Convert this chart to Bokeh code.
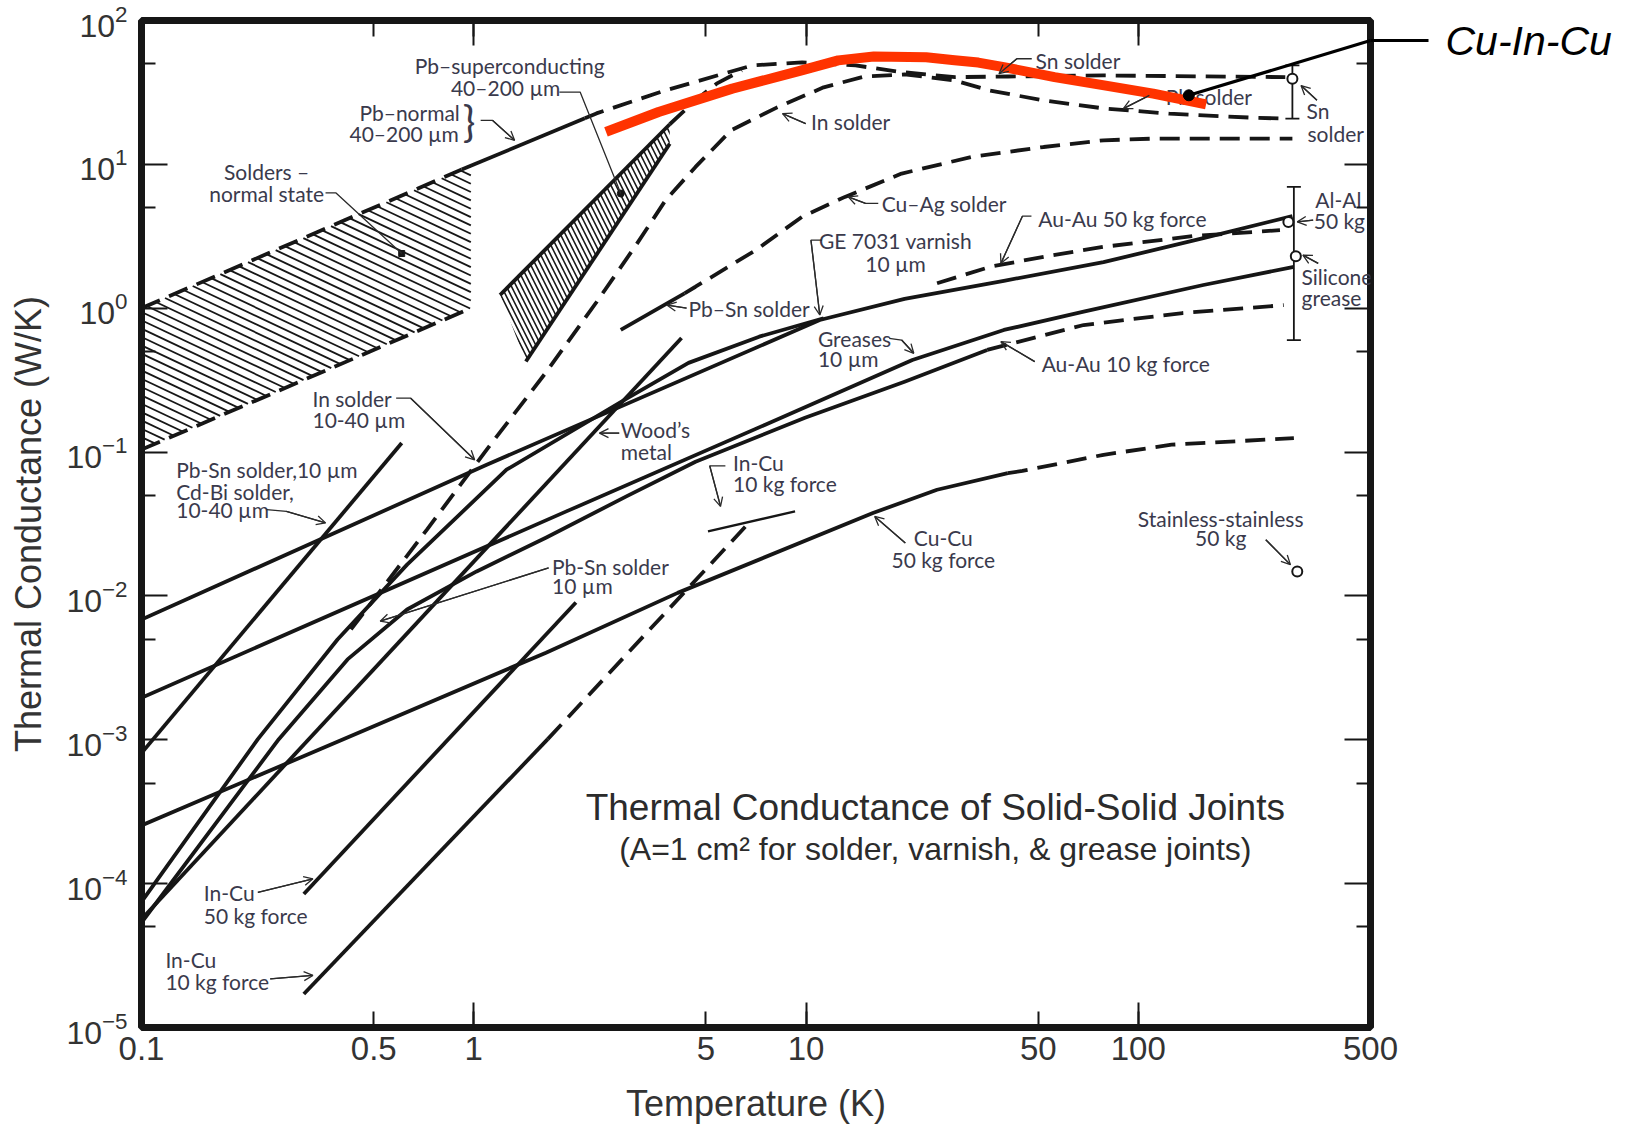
import numpy as np
from bokeh.plotting import figure
from bokeh.models import (ColumnDataSource, FixedTicker, LogAxis, Arrow,
                          OpenHead, Whisker, TeeHead, CustomJSTickFormatter)
from bokeh.core.properties import value
from bokeh.embed import file_html
from bokeh.resources import INLINE

# ---------------- axis ticks ----------------
x_ticks = [0.1, 0.5, 1, 5, 10, 50, 100, 500]
x_decades = [1, 10, 100]
y_ticks = [1e-5, 1e-4, 1e-3, 1e-2, 1e-1, 1e0, 1e1, 1e2]
y_halves = [5e-5, 5e-4, 5e-3, 5e-2, 5e-1, 5e0, 5e1]

# ---------------- curves: temperature T (K), conductance G (W/K) ----------------
# Cu-In-Cu (added red curve)
cuincu_T = [2.5, 3.6, 6.0, 9.7, 12.5, 16, 23, 28, 33, 39.4, 56, 79, 111, 160]
cuincu_G = [16.8, 23.1, 33.6, 45.0, 52.8, 56.2, 55.6, 53.0, 51.0, 47.4, 40.4, 35.4, 31.0, 26.1]

# Solders - normal state band (hatched): upper-left, upper-right, lower-right, lower-left
soldn_T = [0.1, 0.98, 0.98, 0.1]
soldn_G = [1.0, 9.8, 1.0, 0.104]
soldn_up_T = [0.1, 0.92]
soldn_up_G = [1.0, 9.2]
soldn_lo_T = [0.1, 0.98]
soldn_lo_G = [0.104, 1.0]

# Pb-normal (solid) continuing as Sn solder (dashed)
pbn_T = [0.92, 2.16]
pbn_G = [9.2, 20.9]
sn_T = [2.16, 2.34, 3.78, 6.89, 9.73, 14.1, 19.4, 28.1, 40.5, 78.6, 277]
sn_G = [20.9, 22.6, 32.7, 48.7, 51.2, 48.7, 43.8, 40.4, 40.8, 41.5, 40.4]

# Pb-superconducting wedge (hatched)
pbsc_T = [1.20, 3.89, 3.89, 1.435]
pbsc_G = [1.235, 19.0, 13.9, 0.426]
pbsc_left_T = [1.20, 3.89]
pbsc_left_G = [1.235, 19.0]
pbsc_right_T = [1.435, 3.89]
pbsc_right_G = [0.426, 13.9]
pbsc_dash_T = [3.89, 4.65, 5.38, 6.41]
pbsc_dash_G = [19.0, 27.9, 36.4, 45.0]

# In solder (dashed) running into Pb solder
insol_T = [0.427, 0.723, 1.094, 1.654, 2.34, 3.08, 3.78, 4.65, 5.96, 8.19, 11.3, 15.0,
           19.8, 27.9, 35.8, 52.0, 78.6, 124, 221, 277]
insol_G = [5.85e-3, 2.89e-2, 0.104, 0.361, 1.10, 2.75, 5.64, 9.6, 17.3, 24.9, 34.3, 40.8,
           42.2, 38.4, 32.6, 27.8, 24.5, 22.5, 21.1, 20.8]

# Pb-Sn solder (solid) continuing as Cu-Ag solder (dashed)
pbsn_T = [2.77, 4.31]
pbsn_G = [0.706, 1.27]
cuag_T = [4.31, 4.65, 7.07, 9.73, 13.1, 19.4, 31.7, 51.9, 78.6, 111, 291]
cuag_G = [1.27, 1.41, 2.54, 4.32, 5.94, 8.63, 11.3, 13.2, 14.7, 15.1, 15.1]

# Pb-Sn / Cd-Bi solder line joining the Al-Al curve
pbcd_T = [0.1, 1.094, 11.0, 19.8, 39.4, 78.6, 157, 291]
pbcd_G = [6.85e-3, 8.17e-2, 0.828, 1.16, 1.55, 2.09, 3.07, 4.37]

# GE 7031 varnish
ge_T = [0.1, 0.224, 0.389, 0.630, 1.255, 2.91, 4.43, 7.23, 11.3]
ge_G = [7.48e-5, 1.01e-3, 4.98e-3, 1.65e-2, 7.54e-2, 0.238, 0.417, 0.634, 0.851]

# Au-Au 50 kg force (dashed)
au50_T = [24.8, 35.8, 52.0, 78.6, 146, 267]
au50_G = [1.49, 1.94, 2.28, 2.67, 3.17, 3.49]

# Greases / silicone grease
sil_T = [0.1, 1.90, 7.54, 20.9, 39.4, 68.5, 157, 294]
sil_G = [1.96e-3, 3.87e-2, 0.155, 0.437, 0.706, 0.946, 1.45, 1.94]

# Greases (lower) continuing as Au-Au 10 kg force (dashed)
gr2_T = [0.1, 0.259, 0.417, 0.630, 1.02, 1.654, 2.87, 4.65, 9.93, 19.8, 35.1]
gr2_G = [5.36e-5, 1.01e-3, 3.62e-3, 8.05e-3, 1.48e-2, 2.55e-2, 4.90e-2, 8.57e-2, 0.173, 0.308, 0.513]
au10_T = [35.1, 68.5, 136, 274]
au10_G = [0.513, 0.764, 0.926, 1.05]

# Wood's metal
woods_T = [0.1, 4.22]
woods_G = [5.65e-5, 0.621]

# In solder 10-40 um (steep solid)
insol2_T = [0.1, 0.607]
insol2_G = [8.09e-4, 0.1155]

# Cu-Cu 50 kg force
cucu_T = [0.1, 1.65, 4.11, 15.9, 24.8, 40.5]
cucu_G = [2.54e-4, 4.03e-3, 1.05e-2, 3.77e-2, 5.47e-2, 7.14e-2]
cucu_d_T = [40.5, 44.8, 78.6, 126, 294]
cucu_d_G = [7.14e-2, 7.4e-2, 9.57e-2, 0.1125, 0.125]

# In-Cu 10 kg force
incu10_T = [0.308, 1.67]
incu10_G = [1.71e-5, 1.01e-3]
incu10_d_T = [1.67, 6.57]
incu10_d_G = [1.01e-3, 3.03e-2]
incu10_s_T = [5.07, 9.27]
incu10_s_G = [2.81e-2, 3.87e-2]

# In-Cu 50 kg force
incu50_T = [0.308, 2.03]
incu50_G = [8.47e-5, 9.0e-3]

# single points (open circles) and error bars
pts_T = [291, 283, 298, 301]
pts_G = [39.4, 3.98, 2.30, 1.48e-2]
bar_T = [291, 294]
bar_lo = [20.8, 0.60]
bar_hi = [48.8, 6.97]

# Cu-In-Cu marker; its call-out leaves the frame at the level of the tag
cuincu_dot_T, cuincu_dot_G = 142, 30.2
cuincu_tag_G = 72.6

# ---------------- styles ----------------
INK = "#161616"
LEAD = "#2a2a2a"
TXT = "#3a3a4c"
LBL_FONT = value("Lato")
AX_FONT = "Liberation Sans"
LW = 3.8
DASH = "20 10"
HATCH_SLOPE = -1.09      # decades of G per decade of T
HATCH_STEP = 0.058       # spacing of hatch lines, decades of G

p = figure(width=1630, height=1126, x_axis_type="log", y_axis_type="log",
           x_range=(0.1, 500), y_range=(1e-5, 1e2), output_backend="svg",
           toolbar_location=None, min_border_left=141, min_border_right=260,
           min_border_top=20, min_border_bottom=97)
p.grid.visible = False
p.outline_line_color = INK
p.outline_line_width = 7
p.background_fill_color = "white"
p.border_fill_color = "white"


def style_axis(ax, major_in, minor_in):
    ax.axis_line_color = None
    ax.major_tick_in = major_in
    ax.major_tick_out = 0
    ax.minor_tick_in = minor_in
    ax.minor_tick_out = 0
    ax.major_tick_line_width = 2
    ax.minor_tick_line_width = 2
    ax.major_tick_line_color = INK
    ax.minor_tick_line_color = INK


xa = p.xaxis[0]
xa.ticker = FixedTicker(ticks=x_ticks, minor_ticks=x_decades)
xa.formatter = CustomJSTickFormatter(code="return String(tick);")
style_axis(xa, 16, 25)
xa.major_label_text_font = AX_FONT
xa.major_label_text_font_size = "33px"
xa.major_label_text_color = "#333333"
xa.major_label_standoff = 9
xa.axis_label = "Temperature (K)"
xa.axis_label_text_font = AX_FONT
xa.axis_label_text_font_size = "36px"
xa.axis_label_text_font_style = "normal"
xa.axis_label_text_color = "#333333"
xa.axis_label_standoff = 20

ya = p.yaxis[0]
ya.ticker = FixedTicker(ticks=y_ticks, minor_ticks=y_halves)
style_axis(ya, 26, 14)
ya.major_label_text_font = AX_FONT
ya.major_label_text_font_size = "32px"
ya.major_label_text_color = "#333333"
ya.major_label_standoff = 14
ya.axis_label = "Thermal Conductance (W/K)"
ya.axis_label_text_font = AX_FONT
ya.axis_label_text_font_size = "36px"
ya.axis_label_text_font_style = "normal"
ya.axis_label_text_color = "#333333"
ya.axis_label_standoff = 14

# tick-only axes on the right and on top (labels not drawn)
blank = CustomJSTickFormatter(code="return '';")
ry = LogAxis(ticker=FixedTicker(ticks=y_ticks, minor_ticks=y_halves), formatter=blank,
             major_label_text_color=None, major_label_text_font_size="2px",
             major_label_standoff=0)
style_axis(ry, 26, 14)
p.add_layout(ry, "right")
tx = LogAxis(ticker=FixedTicker(ticks=x_ticks, minor_ticks=x_decades), formatter=blank,
             major_label_text_color=None, major_label_text_font_size="2px",
             major_label_standoff=0)
style_axis(tx, 16, 25)
p.add_layout(tx, "above")

# outer right axis carrying the "Cu-In-Cu" call-out (its tick is the outside leader)
tag = LogAxis(ticker=FixedTicker(ticks=[cuincu_tag_G], minor_ticks=[]),
              formatter=CustomJSTickFormatter(code="return 'Cu-In-Cu';"),
              axis_line_color=None, major_tick_in=0, major_tick_out=58,
              major_tick_line_width=3, major_tick_line_color="black",
              minor_tick_in=0, minor_tick_out=0,
              major_label_text_font=AX_FONT, major_label_text_font_style="italic",
              major_label_text_font_size="41px", major_label_text_color="black",
              major_label_standoff=17)
p.add_layout(tag, "right")

# ---------------- hatched regions ----------------
# normal-state solders: slanted hatch clipped to the band
lt0 = np.log10(soldn_T[0])
u_end = np.log10(soldn_T[1]) - lt0
up0, lo0 = np.log10(soldn_G[0]), np.log10(soldn_G[3])
up_s = (np.log10(soldn_G[1]) - up0) / u_end
lo_s = (np.log10(soldn_G[2]) - lo0) / u_end
hx, hy = [], []
for c in np.arange(lo0 + HATCH_STEP / 2, up0 + (up_s - HATCH_SLOPE) * u_end, HATCH_STEP):
    ua = max(0.0, (c - up0) / (up_s - HATCH_SLOPE))
    ub = min(u_end, (c - lo0) / (lo_s - HATCH_SLOPE))
    if ub > ua:
        uu = np.array([ua, ub])
        hx.append(list(10 ** (lt0 + uu)))
        hy.append(list(10 ** (c + HATCH_SLOPE * uu)))
p.multi_line(hx, hy, line_color=INK, line_width=1.8)

p.patch(pbsc_T, pbsc_G, fill_alpha=0, line_color=None, hatch_pattern="\\",
        hatch_color=INK, hatch_weight=1.6, hatch_scale=10)


def solid(T, G, w=LW):
    p.line(T, G, line_width=w, line_color=INK, line_join="round")


def dashed(T, G, w=LW):
    p.line(T, G, line_width=w, line_color=INK, line_dash=DASH, line_cap="butt")


dashed(soldn_up_T, soldn_up_G)
dashed(soldn_lo_T, soldn_lo_G)
solid(pbn_T, pbn_G)
dashed(sn_T, sn_G)
solid(pbsc_left_T, pbsc_left_G)
solid(pbsc_right_T, pbsc_right_G)
dashed(pbsc_dash_T, pbsc_dash_G)
dashed(insol_T, insol_G)
solid(pbsn_T, pbsn_G)
dashed(cuag_T, cuag_G)
solid(pbcd_T, pbcd_G)
solid(ge_T, ge_G)
dashed(au50_T, au50_G)
solid(sil_T, sil_G)
solid(gr2_T, gr2_G)
dashed(au10_T, au10_G)
solid(woods_T, woods_G)
solid(insol2_T, insol2_G)
solid(cucu_T, cucu_G)
dashed(cucu_d_T, cucu_d_G)
solid(incu10_T, incu10_G)
dashed(incu10_d_T, incu10_d_G)
solid(incu10_s_T, incu10_s_G, w=2.4)
solid(incu50_T, incu50_G)

# error bars and open circles
p.add_layout(Whisker(source=ColumnDataSource(dict(T=bar_T, lo=bar_lo, hi=bar_hi)),
                     base="T", lower="lo", upper="hi", dimension="height",
                     line_width=1.8, line_color=INK,
                     upper_head=TeeHead(size=14, line_width=1.8, line_color=INK),
                     lower_head=TeeHead(size=14, line_width=1.8, line_color=INK)))
p.scatter(pts_T, pts_G, marker="circle", size=10, fill_color="white",
          line_color=INK, line_width=2)

# small dots at the ends of two call-outs
p.scatter([2.77], [6.27], marker="circle", size=7, fill_color=INK, line_color=INK)
p.scatter([0.607], [2.40], marker="square", size=6, fill_color=INK, line_color=INK)

# ---------------- call-out texts ----------------
left_txt = ["Sn solder", "Pb solder", "In solder", "Sn", "solder", "Silicone", "grease",
            "Cu–Ag solder", "Au-Au 50 kg force", "Pb–Sn solder", "Greases", "10 µm",
            "Au-Au 10 kg force", "In solder", "10-40 µm", "Pb-Sn solder,10 µm",
            "Cd-Bi solder,", "10-40 µm", "Wood’s", "metal", "In-Cu", "10 kg force",
            "Pb-Sn solder", "10 µm", "In-Cu", "50 kg force", "In-Cu", "10 kg force"]
left_T = [49.1, 121, 10.35, 321, 323, 310, 310, 16.9, 50.0, 4.43, 10.86, 10.86, 51.2,
          0.327, 0.327, 0.1272, 0.1272, 0.1272, 2.77, 2.77, 6.03, 6.03, 1.72, 1.72,
          0.154, 0.154, 0.118, 0.118]
left_G = [52.8, 29.4, 19.7, 23.7, 16.5, 1.67, 1.18, 5.35, 4.23, 1.0, 0.618, 0.448, 0.415,
          0.237, 0.1695, 0.0762, 0.0533, 0.0398, 0.143, 0.101, 0.0847, 0.0602, 0.0161,
          0.0118, 8.61e-5, 6.05e-5, 2.95e-5, 2.09e-5]
center_txt = ["Pb–superconducting", "40–200 µm", "Solders –", "normal state", "Al-Al",
              "50 kg", "GE 7031 varnish", "10 µm", "Cu-Cu", "50 kg force",
              "Stainless-stainless", "50 kg"]
center_T = [1.282, 1.247, 0.238, 0.238, 400, 403, 18.6, 18.6, 25.9, 25.9, 177, 177]
center_G = [48.7, 34.3, 8.86, 6.27, 5.70, 4.05, 2.97, 2.05, 0.0253, 0.0179, 0.0348, 0.0253]
right_txt = ["Pb–normal", "40–200 µm"]
right_T = [0.908, 0.902]
right_G = [23.1, 16.4]

for txt, T, G, al in [(left_txt, left_T, left_G, "left"),
                      (center_txt, center_T, center_G, "center"),
                      (right_txt, right_T, right_G, "right")]:
    p.text(x="T", y="G", text="t", source=ColumnDataSource(dict(T=T, G=G, t=txt)),
           text_font=LBL_FONT, text_font_size="21px", text_align=al,
           text_baseline="middle", text_color=TXT)
p.text(x=[0.927], y=[19.9], text=["}"], text_font=LBL_FONT, text_font_size="42px",
       text_align="left", text_baseline="middle", text_color=TXT)

# leader lines (last segment of each ends in an arrow head unless it ends on a dot)
lead_T = [[1.81, 2.09, 2.77], [0.358, 0.385, 0.607],
          [1.049, 1.14, 1.327], [9.98, 8.50], [47.8, 43.1, 38.1], [119, 108, 90.2],
          [345, 309], [336, 301], [348, 313], [16.5, 15.1, 13.4], [47.7, 44.8, 38.6],
          [11.15, 10.35, 11.0], [4.37, 3.82], [17.8, 19.4, 21.1], [48.8, 38.6],
          [0.584, 0.646, 1.006], [0.238, 0.273, 0.358], [2.74, 2.39], [5.72, 5.13, 5.53],
          [19.9, 16.1], [1.68, 0.523], [242, 287], [0.224, 0.328], [0.244, 0.328]]
lead_G = [[31.8, 31.8, 6.27], [6.33, 6.33, 2.40],
          [20.2, 20.2, 14.7], [19.2, 22.5], [54.2, 54.2, 42.7], [30.2, 30.2, 24.4],
          [27.9, 35.3], [4.09, 3.98], [2.05, 2.34], [5.35, 5.35, 5.94], [4.36, 4.36, 2.05],
          [2.97, 2.97, 0.897], [1.0, 1.05], [0.618, 0.601, 0.486], [0.425, 0.586],
          [0.237, 0.237, 0.0884], [0.0398, 0.0387, 0.0322], [0.1355, 0.1355],
          [0.0803, 0.0803, 0.0419], [0.0233, 0.0357], [0.01567, 6.67e-3],
          [0.0246, 0.0165], [8.70e-5, 1.08e-4], [2.18e-5, 2.30e-5]]
p.multi_line(lead_T, lead_G, line_color=LEAD, line_width=1.3)
heads = dict(x0=[t[-2] for t in lead_T[2:]], y0=[g[-2] for g in lead_G[2:]],
             x1=[t[-1] for t in lead_T[2:]], y1=[g[-1] for g in lead_G[2:]])
p.add_layout(Arrow(end=OpenHead(size=9, line_width=1.3, line_color=LEAD),
                   source=ColumnDataSource(heads), x_start="x0", y_start="y0",
                   x_end="x1", y_end="y1", line_color=LEAD, line_width=1.3))

# chart title inside the plot
p.text(x=[24.5], y=[3.41e-4], text=["Thermal Conductance of Solid-Solid Joints"],
       text_font=value(AX_FONT), text_font_size="37px", text_align="center",
       text_baseline="middle", text_color="#2b2b2b")
p.text(x=[24.5], y=[1.74e-4], text=["(A=1 cm² for solder, varnish, & grease joints)"],
       text_font=value(AX_FONT), text_font_size="32px", text_align="center",
       text_baseline="middle", text_color="#2b2b2b")

# ---------------- Cu-In-Cu overlay ----------------
p.line(cuincu_T, cuincu_G, line_width=10, line_color="#ff3300", line_cap="butt",
       line_join="round")
p.line([cuincu_dot_T, 500], [cuincu_dot_G, cuincu_tag_G], line_width=3.2, line_color="black")
p.scatter([cuincu_dot_T], [cuincu_dot_G], marker="circle", size=11,
          fill_color="black", line_color="black")

open("out.html", "w").write(file_html(p, INLINE))
